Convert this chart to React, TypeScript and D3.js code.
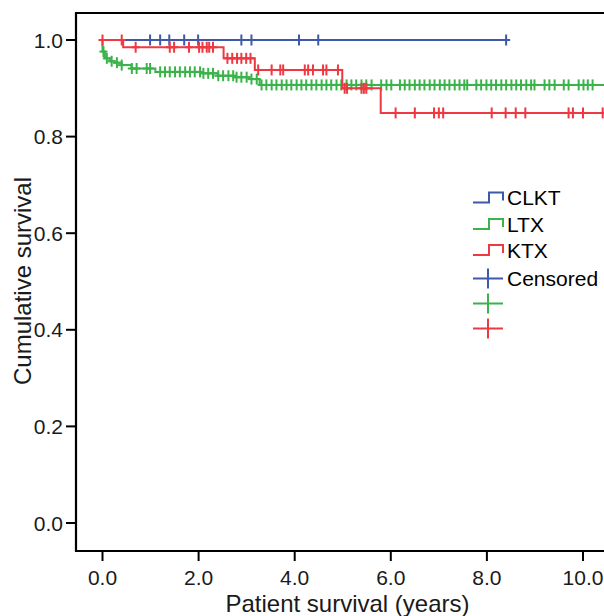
import React from "react";
import * as d3 from "d3";

// ---- data ----
const xTicks = [0, 2, 4, 6, 8, 10];
const yTicks = [0, 0.2, 0.4, 0.6, 0.8, 1.0];
const legendNames = ["CLKT", "LTX", "KTX"];
const censoredLabel = "Censored";
const xTitle = "Patient survival (years)";
const yTitle = "Cumulative survival";

// CLKT (blue)
const clktTimes = [0, 8.4];
const clktSurv = [1.0, 1.0];
const clktCensors = [0.99, 1.2, 1.39, 1.7, 1.99, 2.89, 3.1, 4.09, 4.49, 8.4];

// LTX (green)
const ltxTimes = [0, 0, 0.05, 0.15, 0.25, 0.4, 0.6, 1.1, 2.05, 2.4, 2.75, 3.05, 3.27, 10.6];
const ltxSurv = [1.0, 0.976, 0.962, 0.956, 0.953, 0.948, 0.941, 0.934, 0.931, 0.926, 0.923, 0.919, 0.907, 0.907];
const ltxCensors = [
  0.02, 0.09, 0.19, 0.3, 0.4, 0.61, 0.71, 0.92, 0.99, 1.2, 1.3, 1.4, 1.51, 1.61, 1.72, 1.82, 1.92,
  2.03, 2.1, 2.2, 2.3, 2.41, 2.51, 2.62, 2.72, 2.79, 2.89, 3.0, 3.1, 3.21,
  3.31, 3.41, 3.52, 3.62, 3.73, 3.83, 3.93, 4.04, 4.14, 4.24, 4.35, 4.45, 4.56, 4.66, 4.76, 4.87, 4.97,
  5.08, 5.18, 5.28, 5.39, 5.49, 5.6, 5.8, 5.91, 6.01, 6.19, 6.29, 6.39, 6.5, 6.6, 6.7, 6.81, 6.91,
  7.02, 7.12, 7.22, 7.33, 7.43, 7.53, 7.59, 7.78, 7.88, 7.99, 8.09, 8.19, 8.3, 8.4, 8.51, 8.61, 8.71,
  8.82, 8.92, 8.99, 9.2, 9.3, 9.41, 9.6, 9.7, 9.91, 10.01, 10.1, 10.2,
];

// KTX (red)
const ktxTimes = [0, 0.43, 2.52, 3.17, 4.99, 5.79, 10.6];
const ktxSurv = [1.0, 0.985, 0.962, 0.938, 0.9, 0.849, 0.849];
const ktxCensors = [
  0.0, 0.4, 0.69, 1.4, 1.49, 1.8, 2.01, 2.08, 2.17, 2.22, 2.3, 2.6, 2.7, 2.8, 2.89, 2.99, 3.08,
  3.24, 3.52, 3.7, 3.76, 4.21, 4.28, 4.38, 4.59, 4.66, 4.9, 5.04, 5.09, 5.39, 5.44, 5.49,
  6.1, 6.5, 6.9, 7.0, 7.09, 8.1, 8.39, 8.6, 8.8, 9.7, 9.79, 10.0, 10.41,
];

const colors = ["#3d5aa9", "#3bb34a", "#ee3842"];

// ---- layout ----
const W = 604;
const H = 616;
const frameLeft = 76;
const frameTop = 13;
const frameBottom = 551;
const frameRight = 640;

const x = d3.scaleLinear().domain([0, 10]).range([102.5, 583]);
const y = d3.scaleLinear().domain([0, 1]).range([523, 40]);

type Series = { times: number[]; surv: number[]; censors: number[]; color: string };

const series: Series[] = [
  { times: clktTimes, surv: clktSurv, censors: clktCensors, color: colors[0] },
  { times: ltxTimes, surv: ltxSurv, censors: ltxCensors, color: colors[1] },
  { times: ktxTimes, surv: ktxSurv, censors: ktxCensors, color: colors[2] },
];

function survAt(s: Series, t: number): number {
  let v = s.surv[0];
  for (let i = 0; i < s.times.length; i++) {
    if (s.times[i] <= t) v = s.surv[i];
  }
  return v;
}

const line = d3
  .line<[number, number]>()
  .x((d) => x(d[0]))
  .y((d) => y(d[1]))
  .curve(d3.curveStepAfter);

const font = "'Liberation Sans', Arial, Helvetica, sans-serif";

export default function App() {
  const legendRows = [197.5, 224, 250];
  const legendCensorRows = [278.5, 303.5, 328.5];
  return (
    <svg
      width={W}
      height={H}
      style={{ position: "absolute", left: 0, top: 0, background: "#fff" }}
      fontFamily={font}
    >
      <defs>
        <clipPath id="plotclip">
          <rect x={frameLeft} y={frameTop} width={frameRight - frameLeft} height={frameBottom - frameTop} />
        </clipPath>
      </defs>
      <rect x={0} y={0} width={W} height={H} fill="#fff" />

      {/* curves */}
      <g clipPath="url(#plotclip)">
        {series.map((s, i) => {
          const pts: [number, number][] = s.times.map((t, j) => [t, s.surv[j]]);
          return (
            <g key={i}>
              <path d={line(pts) || ""} fill="none" stroke={s.color} strokeWidth={2} />
              {s.censors.map((c, k) => {
                const cx = x(c);
                const cy = y(survAt(s, c));
                return (
                  <g key={k} stroke={s.color} strokeWidth={2}>
                    <line x1={cx} x2={cx} y1={cy - 5.5} y2={cy + 5.5} />
                    <line x1={cx - 4} x2={cx + 4} y1={cy} y2={cy} />
                  </g>
                );
              })}
            </g>
          );
        })}
      </g>

      {/* frame */}
      <path
        d={`M${frameRight},${frameTop}H${frameLeft}V${frameBottom}H${frameRight}`}
        fill="none"
        stroke="#000"
        strokeWidth={2.2}
      />

      {/* y axis */}
      {yTicks.map((t) => (
        <g key={t}>
          <line x1={66} x2={frameLeft} y1={y(t)} y2={y(t)} stroke="#000" strokeWidth={2} />
          <text x={63} y={y(t)} dy="0.36em" textAnchor="end" fontSize={21} fill="#1a1a1a">
            {d3.format(".1f")(t)}
          </text>
        </g>
      ))}
      {/* x axis */}
      {xTicks.map((t) => (
        <g key={t}>
          <line x1={x(t)} x2={x(t)} y1={frameBottom} y2={frameBottom + 10} stroke="#000" strokeWidth={2} />
          <text x={x(t)} y={585} textAnchor="middle" fontSize={21} fill="#1a1a1a">
            {d3.format(".1f")(t)}
          </text>
        </g>
      ))}
      <text x={(223 + 472) / 2} y={612} textAnchor="middle" fontSize={24} fill="#1a1a1a">
        {xTitle}
      </text>
      <text
        transform={`translate(31,281) rotate(-90)`}
        textAnchor="middle"
        fontSize={24}
        fill="#1a1a1a"
      >
        {yTitle}
      </text>

      {/* legend */}
      {legendNames.map((n, i) => {
        const base = legendRows[i] + 5;
        return (
          <g key={n}>
            <path
              d={`M473,${base}H489V${base - 10}H503V${base - 2}`}
              fill="none"
              stroke={colors[i]}
              strokeWidth={2}
            />
            <text x={507} y={legendRows[i]} dy="0.36em" fontSize={21} fill="#000">
              {n}
            </text>
          </g>
        );
      })}
      {legendCensorRows.map((ry, i) => (
        <g key={i} stroke={colors[i]} strokeWidth={2}>
          <line x1={473} x2={503} y1={ry} y2={ry} />
          <line x1={488} x2={488} y1={ry - 10} y2={ry + 10} />
        </g>
      ))}
      <text x={507} y={legendCensorRows[0]} dy="0.36em" fontSize={21} fill="#000">
        {censoredLabel}
      </text>
    </svg>
  );
}
